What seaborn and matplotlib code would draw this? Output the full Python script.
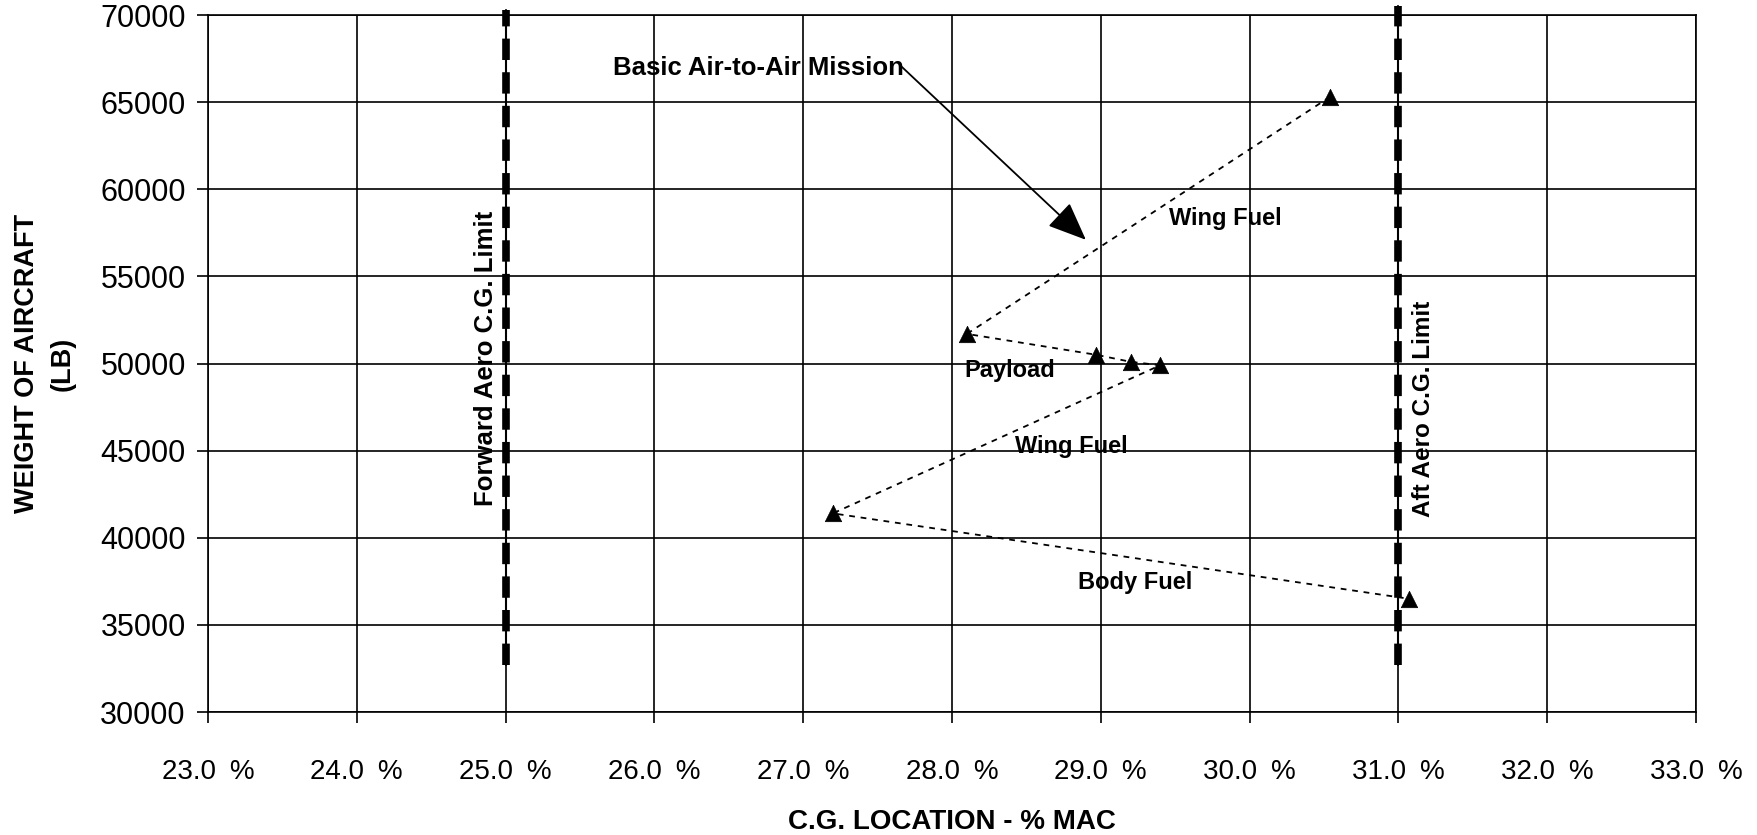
"""
C.G. envelope chart - Basic Air-to-Air Mission
Weight of aircraft vs C.G. location (% MAC)
"""

import matplotlib
matplotlib.use("Agg")
import matplotlib.pyplot as plt
import pandas as pd
import seaborn as sns

# ============================================================
# Data
# ============================================================
cg_pct = [30.54, 28.10, 28.97, 29.20, 29.40, 27.20, 31.07]
weight_lb = [65300, 51700, 50500, 50100, 49900, 41400, 36500]

fwd_limit_x = [25.0, 25.0]
fwd_limit_y = [32700, 70300]
aft_limit_x = [31.0, 31.0]
aft_limit_y = [32700, 70500]

x_ticks = [23.0, 24.0, 25.0, 26.0, 27.0, 28.0, 29.0, 30.0, 31.0, 32.0, 33.0]
y_ticks = [30000, 35000, 40000, 45000, 50000, 55000, 60000, 65000, 70000]

# label name, x, y
segment_labels = [
    ("Wing Fuel", 29.84, 58300),
    ("Payload", 28.39, 49600),
    ("Wing Fuel", 28.80, 45250),
    ("Body Fuel", 29.23, 37450),
]

df = pd.DataFrame({"cg": cg_pct, "weight": weight_lb})

# ============================================================
# Style
# ============================================================
sns.set_style("white")
plt.rcParams["font.family"] = ["Liberation Sans", "DejaVu Sans"]
plt.rcParams["text.color"] = "black"
plt.rcParams["axes.labelcolor"] = "black"

fig = plt.figure(figsize=(17.58, 8.35), dpi=100)
ax = fig.add_axes([0.1183, 0.1473, 0.8464, 0.8347])

ax.set_xlim(23.0, 33.0)
ax.set_ylim(30000, 70000)
ax.set_xticks(x_ticks)
ax.set_yticks(y_ticks)
ax.set_xticklabels([f"{v:.1f}\u2002%" for v in x_ticks])
ax.set_yticklabels([str(v) for v in y_ticks])
ax.grid(True, color="black", linewidth=1.2)
ax.set_axisbelow(True)
for sp in ax.spines.values():
    sp.set_color("black")
    sp.set_linewidth(1.2)
ax.tick_params(axis="x", direction="out", length=8, width=1.2, pad=26,
               labelsize=20, colors="black", bottom=True)
ax.tick_params(axis="y", direction="out", length=8, width=1.2, pad=8,
               labelsize=22, colors="black", left=True)

# ============================================================
# C.G. limit lines (thin line with heavy dashes on top)
# ============================================================
for lx, ly in [(fwd_limit_x, fwd_limit_y), (aft_limit_x, aft_limit_y)]:
    ax.plot(lx, ly, color="black", linewidth=1.5, clip_on=False, zorder=3)
    heavy, = ax.plot(lx, ly, color="black", linewidth=5.5, clip_on=False,
                     zorder=3, solid_capstyle="butt")
    heavy.set_dashes((2.8, 1.6))

ax.text(24.87, 50300, "Forward Aero C.G. Limit", rotation=90, ha="center",
        va="center", fontsize=18.5, fontweight="bold", zorder=5)
ax.text(31.17, 47400, "Aft Aero C.G. Limit", rotation=90, ha="center",
        va="center", fontsize=17.5, fontweight="bold", zorder=5)

# ============================================================
# Mission path
# ============================================================
sns.lineplot(data=df, x="cg", y="weight", sort=False, estimator=None,
             color="black", linewidth=1.3, ax=ax, zorder=4)
ax.lines[-1].set_dashes((3.2, 3.2))
sns.scatterplot(data=df, x="cg", y="weight", marker="^", s=140, color="black",
                edgecolor="black", linewidth=0.5, ax=ax, zorder=5)

for name, tx, ty in segment_labels:
    ax.text(tx, ty, name, ha="center", va="center", fontsize=17,
            fontweight="bold", zorder=6)

ax.text(25.72, 66980, "Basic Air-to-Air Mission", ha="left", va="center",
        fontsize=18.5, fontweight="bold", zorder=6)
ax.annotate("", xy=(28.90, 57100), xytext=(27.66, 67050),
            arrowprops=dict(arrowstyle="-|>,head_length=1.2,head_width=0.5",
                            mutation_scale=20, color="black", linewidth=1.3,
                            shrinkA=0, shrinkB=0),
            zorder=6)

ax.set_xlabel("C.G. LOCATION - % MAC", fontsize=20, fontweight="bold")
ax.xaxis.label.set_va("center")
ax.xaxis.set_label_coords(0.5, -0.158)
ax.set_ylabel("WEIGHT OF AIRCRAFT\n(LB)", fontsize=19.5, fontweight="bold",
              linespacing=1.5)
ax.yaxis.label.set_va("center")
ax.yaxis.set_label_coords(-0.1098, 0.5)

plt.savefig("out.png", dpi=100)
plt.close()
